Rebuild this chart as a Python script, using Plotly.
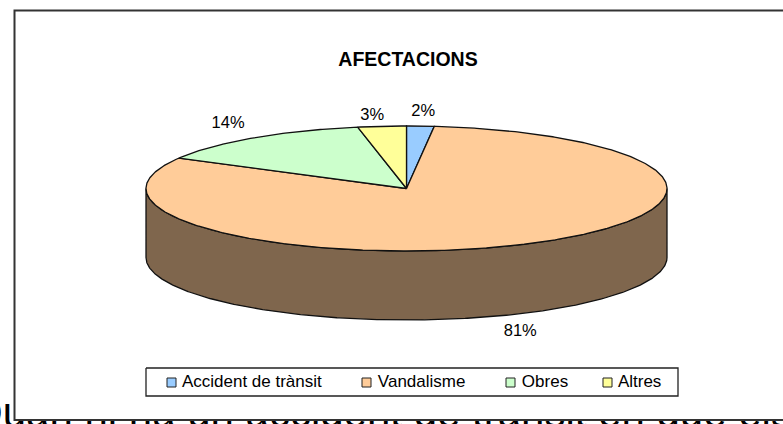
import numpy as np
import plotly.graph_objects as go

# Data
categories = ["Accident de trànsit", "Vandalisme", "Obres", "Altres"]
values = [1.7, 81.4, 13.9, 3.0]
percent_labels = ["2%", "81%", "14%", "3%"]
title_text = "AFECTACIONS"
clipped_text = "Quan hi ha un accident de trànsit en què els"

# Styles
slice_colors = ["#99CCFF", "#FFCC99", "#CCFFCC", "#FFFF99"]
side_color = "#7F664D"
edge_color = "#111111"
font_family = "Liberation Sans, Arial, sans-serif"

# Layout geometry, in window pixels
W, H = 783, 424
CX, CY, RX, RY, DEPTH = 406.5, 188.5, 260.5, 62.5, 69
label_pull = [1.2, 0.95, 1.17, 1.4]
label_gap = [14, 19, 14, 10]
frame_left, frame_top, frame_bottom = 14.5, 10.5, 420
legend_box = (146, 368, 678, 396)
legend_marker_x = [171.5, 366.5, 510.5, 607.5]
legend_y = 382.5


def arc(t0, t1, dy=0.0):
    t = np.radians(np.linspace(t0, t1, max(int(abs(t1 - t0)) * 2, 2) + 1))
    return CX + RX * np.sin(t), CY - RY * np.cos(t) + dy


fig = go.Figure()

# Large body text running behind the chart frame
fig.add_trace(go.Scatter(
    x=[-30], y=[416], mode="text", text=[clipped_text], textposition="middle right",
    textfont=dict(family=font_family, size=42, color="#000000"),
    hoverinfo="skip", showlegend=False))

# Chart frame (open on the right, runs off the window)
fig.add_trace(go.Scatter(
    x=[W + 5, frame_left, frame_left, W + 5],
    y=[frame_top, frame_top, frame_bottom, frame_bottom],
    mode="lines", fill="toself", fillcolor="#FFFFFF",
    line=dict(color="#333333", width=2),
    hoverinfo="skip", showlegend=False))

# Angular extents of the slices (clockwise from the top)
shares = np.array(values) / np.sum(values) * 360.0
ends = np.cumsum(shares)
starts = ends - shares

# Side wall: the part of each slice that faces the viewer
for a, b in zip(starts, ends):
    lo, hi = max(a, 90.0), min(b, 270.0)
    if hi <= lo:
        continue
    xt, yt = arc(lo, hi)
    xb, yb = arc(hi, lo, DEPTH)
    fig.add_trace(go.Scatter(
        x=np.r_[xt, xb, xt[0]], y=np.r_[yt, yb, yt[0]],
        mode="lines", fill="toself", fillcolor=side_color,
        line=dict(color=edge_color, width=1.3),
        hoverinfo="skip", showlegend=False))

# Top face
for name, a, b, col in zip(categories, starts, ends, slice_colors):
    xa, ya = arc(a, b)
    fig.add_trace(go.Scatter(
        x=np.r_[CX, xa, CX], y=np.r_[CY, ya, CY],
        mode="lines", fill="toself", fillcolor=col,
        line=dict(color=edge_color, width=1.3),
        name=name, hoverinfo="name", showlegend=False))

# Percent labels
mid = np.radians((starts + ends) / 2)
pull = np.array(label_pull)
gap = np.array(label_gap)
front = np.cos(mid) < 0
lx = CX + RX * np.sin(mid) * pull
ly = CY - RY * np.cos(mid) + np.where(front, DEPTH + gap, -gap)
fig.add_trace(go.Scatter(
    x=lx, y=ly, mode="text", text=percent_labels, textposition="middle center",
    textfont=dict(family=font_family, size=16.5, color="#000000"),
    hoverinfo="skip", showlegend=False))

# Title
fig.add_trace(go.Scatter(
    x=[408], y=[61], mode="text", text=[f"<b>{title_text}</b>"], textposition="middle center",
    textfont=dict(family=font_family, size=19.5, color="#000000"),
    hoverinfo="skip", showlegend=False))

# Legend
x0, y0, x1, y1 = legend_box
fig.add_trace(go.Scatter(
    x=[x0, x1, x1, x0, x0], y=[y0, y0, y1, y1, y0],
    mode="lines", fill="toself", fillcolor="#FFFFFF",
    line=dict(color="#222222", width=1.3),
    hoverinfo="skip", showlegend=False))
fig.add_trace(go.Scatter(
    x=legend_marker_x, y=[legend_y] * 4, mode="markers+text",
    marker=dict(symbol="square", size=9, color=slice_colors, line=dict(color="#222222", width=1)),
    text=[" " + c for c in categories], textposition="middle right",
    textfont=dict(family=font_family, size=17, color="#000000"),
    hoverinfo="skip", showlegend=False))

fig.update_layout(
    width=W, height=H, margin=dict(l=0, r=0, t=0, b=0),
    paper_bgcolor="#FFFFFF", plot_bgcolor="#FFFFFF", showlegend=False,
    xaxis=dict(range=[0, W], visible=False, fixedrange=True),
    yaxis=dict(range=[H, 0], visible=False, fixedrange=True),
)
fig.write_html(
    "out.html",
    config=dict(displayModeBar=False),
    post_script="document.body.style.margin='0';document.body.style.overflow='hidden';",
)
